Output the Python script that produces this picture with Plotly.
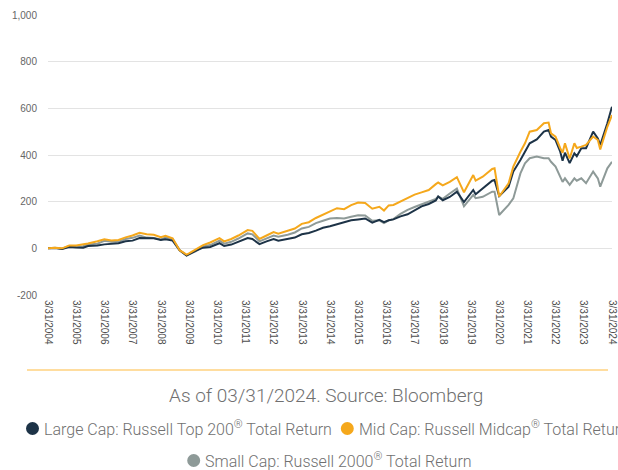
import plotly.graph_objects as go

dates = [
    "2004-03-31", "2004-06-30", "2004-09-30", "2004-12-31",
    "2005-03-31", "2005-06-30", "2005-08-31", "2005-12-31",
    "2006-03-31", "2006-06-30", "2006-09-30", "2006-12-31",
    "2007-03-31", "2007-06-30", "2007-09-30", "2007-12-31",
    "2008-03-31", "2008-05-31", "2008-08-31", "2008-11-30",
    "2009-02-28", "2009-03-31", "2009-06-30", "2009-09-30", "2009-12-31",
    "2010-04-30", "2010-06-30", "2010-09-30", "2010-12-31",
    "2011-04-30", "2011-06-30", "2011-09-30", "2011-12-31",
    "2012-03-31", "2012-05-31", "2012-09-30", "2012-12-31",
    "2013-03-31", "2013-06-30", "2013-09-30", "2013-12-31",
    "2014-03-31", "2014-06-30", "2014-09-30", "2014-12-31",
    "2015-03-31", "2015-06-30", "2015-09-30", "2015-12-31",
    "2016-02-29", "2016-04-30", "2016-06-30", "2016-09-30", "2016-12-31",
    "2017-03-31", "2017-06-30", "2017-09-30", "2017-12-31",
    "2018-01-31", "2018-03-31", "2018-06-30", "2018-09-30", "2018-12-31",
    "2019-04-30", "2019-05-31", "2019-08-31", "2019-12-31",
    "2020-01-31", "2020-03-31", "2020-07-31", "2020-09-30", "2020-12-31",
    "2021-02-28", "2021-04-30", "2021-07-31", "2021-10-31", "2021-12-31",
    "2022-01-31", "2022-03-31", "2022-05-31", "2022-06-30", "2022-07-31",
    "2022-09-30", "2022-11-30", "2022-12-31",
    "2023-02-28", "2023-04-30", "2023-07-31", "2023-09-30", "2023-10-31",
    "2024-01-31", "2024-03-31",
]

large_cap = [
    0, 1, -3, 6,
    4, 3, 10, 12,
    17, 18, 22, 30,
    33, 44, 42, 43,
    36, 39, 33, -8,
    -31, -25, -10, 3, 6,
    22, 10, 16, 29,
    44, 40, 18, 30,
    40, 33, 42, 46,
    60, 66, 76, 88,
    95, 104, 110, 120,
    124, 128, 110, 122,
    112, 120, 124, 137, 146,
    164, 180, 190, 205,
    222, 206, 220, 243, 198,
    250, 232, 257, 290,
    293, 224, 264, 329, 379,
    414, 450, 467, 500, 507,
    479, 464, 414, 375, 410,
    365, 407, 395,
    429, 429, 500, 471, 443,
    536, 607,
]

mid_cap = [
    0, 2, 0, 12,
    12, 16, 21, 30,
    39, 34, 36, 47,
    55, 67, 60, 58,
    48, 54, 43, -8,
    -27, -22, -5, 14, 25,
    44, 30, 40, 55,
    78, 75, 40, 55,
    70, 63, 75, 85,
    105, 112, 130, 145,
    160, 172, 168, 185,
    196, 194, 170, 178,
    162, 184, 186, 200, 215,
    230, 240, 250, 275,
    282, 270, 285, 305, 240,
    314, 290, 307, 340,
    343, 222, 279, 350, 414,
    450, 500, 507, 536, 539,
    493, 479, 429, 410, 450,
    385, 450, 430,
    436, 443, 479, 464, 424,
    521, 571,
]

small_cap = [
    0, 2, -2, 10,
    7, 9, 17, 20,
    32, 28, 28, 40,
    45, 55, 46, 44,
    38, 46, 40, -8,
    -30, -26, -12, 8, 14,
    33, 20, 28, 42,
    64, 60, 30, 42,
    55, 50, 58, 68,
    85, 92, 108, 118,
    128, 130, 128, 135,
    142, 141, 118, 120,
    108, 120, 125, 148, 165,
    177, 188, 200, 212,
    222, 212, 235, 256, 180,
    229, 215, 221, 243,
    243, 143, 186, 214, 321,
    364, 386, 393, 386, 386,
    371, 350, 307, 285, 300,
    272, 300, 290,
    300, 279, 329, 300, 264,
    343, 371,
]

tick_dates = ["%d-03-31" % y for y in range(2004, 2025)]
tick_labels = ["3/31/%d" % y for y in range(2004, 2025)]
y_ticks = [-200, 0, 200, 400, 600, 800, 1000]
y_labels = ["-200", "0", "200", "400", "600", "800", "1,000"]

series_names = [
    "Large Cap: Russell Top 200<sup>®</sup> Total Return",
    "Mid Cap: Russell Midcap<sup>®</sup> Total Return",
    "Small Cap: Russell 2000<sup>®</sup> Total Return",
]
colors = ["#1d3347", "#f5a81c", "#8e9a98"]

fig = go.Figure()
for vals, name, col in [(small_cap, series_names[2], colors[2]),
                        (large_cap, series_names[0], colors[0]),
                        (mid_cap, series_names[1], colors[1])]:
    fig.add_trace(go.Scatter(x=dates, y=vals, mode="lines", name=name,
                             line=dict(color=col, width=2), showlegend=False))

fig.update_layout(
    width=618, height=470,
    margin=dict(l=48, r=6, t=15, b=175, autoexpand=False),
    paper_bgcolor="white", plot_bgcolor="white",
    xaxis=dict(
        type="date", automargin=False,
        range=["2004-03-31", "2024-03-31 06:00"],
        tickvals=tick_dates, ticktext=tick_labels,
        tickangle=90,
        tickfont=dict(family="Liberation Sans", size=10, color="#4d4d4d"),
        showgrid=False, zeroline=False, showline=False,
        ticks="", ticklabelstandoff=4,
    ),
    yaxis=dict(
        range=[-200, 1000], automargin=False,
        tickvals=y_ticks, ticktext=y_labels,
        tickfont=dict(family="Liberation Sans", size=10, color="#666666"),
        showgrid=True, gridcolor="#e3e3e3", gridwidth=1,
        zeroline=False, showline=False, ticks="",
        ticklabelstandoff=10,
    ),
)


def px_to_paper_x(px):
    return (px - 48) / 564.0


def py_to_paper_y(py):
    return (295 - py) / 280.0


fig.add_shape(type="line", xref="paper", yref="paper",
              x0=px_to_paper_x(27), x1=px_to_paper_x(608),
              y0=py_to_paper_y(370), y1=py_to_paper_y(370),
              line=dict(color="#ffd27f", width=1.5))

fig.add_annotation(text="As of 03/31/2024. Source: Bloomberg",
                   xref="paper", yref="paper",
                   x=px_to_paper_x(326), y=py_to_paper_y(395.5),
                   xanchor="center", yanchor="middle", showarrow=False,
                   font=dict(family="Roboto", size=19, color="#707070", weight=300))

legend_font = dict(family="Roboto", size=16, color="#707070", weight=300)
legend_items = [
    (series_names[0], colors[0], 32.5, 428.5, 42),
    (series_names[1], colors[1], 347.3, 428.5, 356.5),
    (series_names[2], colors[2], 193.7, 460.5, 202.5),
]

for name, col, dx, dy, tx in legend_items:
    fig.add_shape(type="circle", xref="paper", yref="paper",
                  x0=px_to_paper_x(dx - 6.5), x1=px_to_paper_x(dx + 6.5),
                  y0=py_to_paper_y(dy + 6.5), y1=py_to_paper_y(dy - 6.5),
                  fillcolor=col, line=dict(width=0))
    fig.add_annotation(text=name, xref="paper", yref="paper",
                       x=px_to_paper_x(tx), y=py_to_paper_y(dy),
                       xanchor="left", yanchor="middle", showarrow=False,
                       font=legend_font)

fig.write_html("out.html", config={"displayModeBar": False},
               post_script="document.body.style.margin='0';document.body.style.overflow='hidden';")
